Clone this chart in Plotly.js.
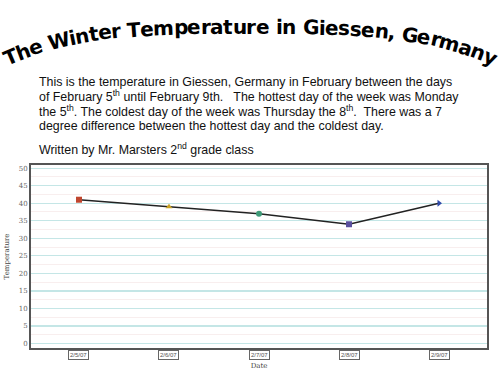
<!DOCTYPE html>
<html><head><meta charset="utf-8">
<script src="https://cdn.plot.ly/plotly-3.0.1.min.js"></script>
<style>html,body{margin:0;padding:0;background:#fff}#chart{width:500px;height:375px}</style>
</head><body><div id="chart"></div>
<script>
// ---- data ----
var dates = ["2/5/07", "2/6/07", "2/7/07", "2/8/07", "2/9/07"];
var temps = [41, 39, 37, 34, 40];
var markerColors = ["#c0462e", "#c9a227", "#3f9a78", "#5a4f9e", "#2f4aa8"];
var markerSymbols = ["square", "triangle-up", "circle", "square", "triangle-right"];
var yTickVals = [0, 5, 10, 15, 20, 25, 30, 35, 40, 45, 50];
var titleText = "The Winter Temperature in Giessen, Germany";
var paragraphLines = [
  "This is the temperature in Giessen, Germany in February between the days",
  "of February 5<sup>th</sup> until February 9th.   The hottest day of the week was Monday",
  "the 5<sup>th</sup>. The coldest day of the week was Thursday the 8<sup>th</sup>.  There was a 7",
  "degree difference between the hottest day and the coldest day."
];
var creditLine = "Written by Mr. Marsters 2<sup>nd</sup> grade class";

// ---- layout geometry (pixels) ----
var W = 500, H = 375;
var L = 31, R = 487, T = 165, B = 348;
function px(x){ return (x - L) / (R - L); }
function py(y){ return (B - y) / (B - T); }

var annotations = [];

// curved (arched) title, one character per annotation
var fontSize = 20;
var fontFam = "DejaVu Sans, Arial Black, sans-serif";
var cv = document.createElement("canvas").getContext("2d");
cv.font = "bold " + fontSize + "px DejaVu Sans";
function curveY(x){ var u = (x - 250) / 240; return 27 + 30 * Math.pow(Math.abs(u), 3.4); }
function curveSlope(x){ var u = (x - 250) / 240; return 30 * 3.4 * Math.pow(Math.abs(u), 2.4) * Math.sign(u) / 240; }
var xs = [], ss = [0];
for (var x = 4; x <= 496; x += 0.5) xs.push(x);
for (var i = 1; i < xs.length; i++) {
  var dx = xs[i] - xs[i-1], dy = curveY(xs[i]) - curveY(xs[i-1]);
  ss.push(ss[i-1] + Math.sqrt(dx*dx + dy*dy));
}
var totalArc = ss[ss.length-1];
var widths = [], totW = 0;
for (var c = 0; c < titleText.length; c++) { var w = cv.measureText(titleText[c]).width; widths.push(w); totW += w; }
var scale = totalArc / totW;
function xAtArc(s){
  for (var i = 1; i < ss.length; i++) if (ss[i] >= s) return xs[i];
  return xs[xs.length-1];
}
var acc = 0;
for (var c = 0; c < titleText.length; c++) {
  var mid = (acc + widths[c] / 2) * scale;
  acc += widths[c];
  if (titleText[c] === " ") continue;
  var cx = xAtArc(mid), cyv = curveY(cx);
  var ang = Math.atan(curveSlope(cx)) * 180 / Math.PI;
  annotations.push({text: titleText[c], xref: "paper", yref: "paper", x: px(cx), y: py(cyv),
    xanchor: "center", yanchor: "middle", showarrow: false, textangle: ang,
    font: {family: fontFam, size: fontSize, color: "#000", weight: "bold"}});
}

// paragraph
var lineY = [82, 96, 111, 126];
for (var k = 0; k < paragraphLines.length; k++) {
  annotations.push({text: paragraphLines[k], xref: "paper", yref: "paper", x: px(37), y: py(lineY[k]),
    xanchor: "left", yanchor: "middle", showarrow: false,
    font: {family: "Liberation Sans, Arial, sans-serif", size: 12.4, color: "#111"}});
}
annotations.push({text: creditLine, xref: "paper", yref: "paper", x: px(37), y: py(149),
  xanchor: "left", yanchor: "middle", showarrow: false,
  font: {family: "Liberation Sans, Arial, sans-serif", size: 12.4, color: "#111"}});

// boxed x tick labels
for (var d = 0; d < dates.length; d++) {
  annotations.push({text: dates[d], xref: "x", yref: "paper", x: dates[d], y: py(355),
    xanchor: "center", yanchor: "middle", showarrow: false,
    bordercolor: "#666", borderwidth: 1, borderpad: 1,
    font: {family: "Liberation Sans, Arial, sans-serif", size: 6, color: "#555"}});
}

var trace = {
  x: dates, y: temps, type: "scatter", mode: "lines+markers",
  line: {color: "#222222", width: 1.6},
  marker: {color: markerColors, symbol: markerSymbols, size: 6},
  showlegend: false, hoverinfo: "skip"
};

var layout = {
  width: W, height: H,
  margin: {l: L, r: W - R, t: T, b: H - B, pad: 0},
  paper_bgcolor: "#fff", plot_bgcolor: "#fff",
  xaxis: {type: "category", range: [-0.533, 4.533], showticklabels: false, ticks: "",
    showgrid: false, zeroline: false, showline: true, mirror: true, linecolor: "#555", linewidth: 2,
    title: {text: "Date", standoff: 14, font: {family: "DejaVu Serif, serif", size: 7, color: "#444"}}},
  yaxis: {range: [-1.3, 50.9], tickvals: yTickVals, ticks: "",
    tickfont: {family: "DejaVu Serif, serif", size: 7, color: "#666"},
    showgrid: true, gridcolor: "#c4e6e6", gridwidth: 1.3, zeroline: false,
    minor: {dtick: 2.5, showgrid: true, gridcolor: "#f8eeee", gridwidth: 1},
    showline: true, mirror: true, linecolor: "#555", linewidth: 2,
    title: {text: "Temperature", standoff: 8, font: {family: "DejaVu Serif, serif", size: 7, color: "#444"}}},
  annotations: annotations
};

Plotly.newPlot("chart", [trace], layout, {staticPlot: true, displayModeBar: false});
</script></body></html>
